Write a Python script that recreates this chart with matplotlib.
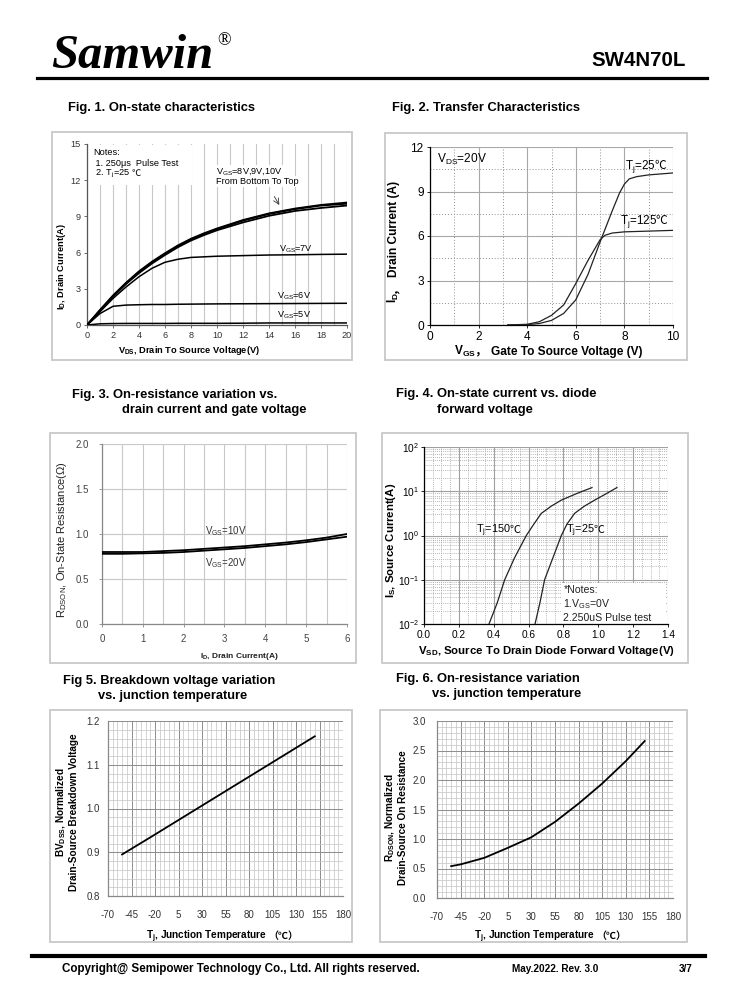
import matplotlib
matplotlib.use('Agg')
import matplotlib.pyplot as plt
import numpy as np
from matplotlib.patches import Rectangle
from matplotlib.lines import Line2D
from matplotlib.ticker import (MultipleLocator, FixedLocator, FormatStrFormatter,
                               LogLocator, NullFormatter)

plt.rcParams['font.family'] = ['Liberation Sans', 'Noto Sans CJK SC', 'DejaVu Sans']
plt.rcParams['mathtext.default'] = 'regular'
plt.rcParams['axes.unicode_minus'] = False

# ---------------- data ----------------
# Fig 1: output characteristics
vds = [0, 1, 2, 3, 4, 5, 6, 7, 8, 9, 10, 12, 14, 16, 18, 20]
id_vgs10 = [0, 1.25, 2.45, 3.5, 4.45, 5.25, 5.95, 6.6, 7.15, 7.6, 8.0, 8.7, 9.25, 9.65, 9.95, 10.15]
id_vgs9 = [0, 1.22, 2.4, 3.45, 4.4, 5.2, 5.9, 6.55, 7.1, 7.55, 7.95, 8.65, 9.2, 9.6, 9.9, 10.05]
id_vgs8 = [0, 1.18, 2.35, 3.4, 4.3, 5.1, 5.8, 6.45, 7.0, 7.45, 7.85, 8.5, 9.05, 9.45, 9.7, 9.9]
id_vgs7 = [0, 1.1, 2.2, 3.15, 4.0, 4.7, 5.2, 5.45, 5.6, 5.65, 5.7, 5.75, 5.8, 5.82, 5.85, 5.87]
id_vgs6 = [0, 0.95, 1.55, 1.65, 1.68, 1.7, 1.7, 1.72, 1.73, 1.74, 1.75, 1.76, 1.77, 1.78, 1.79, 1.8]
id_vgs5 = [0, 0.1, 0.12, 0.13, 0.13, 0.13, 0.13, 0.14, 0.14, 0.14, 0.14, 0.15, 0.17, 0.17, 0.17, 0.17]

# Fig 2: transfer characteristics
vgs_25 = [3.2, 4.0, 4.5, 5.0, 5.5, 6.0, 6.5, 7.0, 7.5, 7.8, 8.0, 8.2, 8.5, 9.0, 10.0]
id_25 = [0, 0.02, 0.1, 0.31, 0.78, 1.7, 3.4, 5.6, 7.7, 8.9, 9.5, 9.85, 10.0, 10.12, 10.25]
vgs_125 = [3.2, 4.0, 4.5, 5.0, 5.5, 6.0, 6.5, 7.0, 7.2, 7.5, 8.0, 9.0, 10.0]
id_125 = [0, 0.05, 0.22, 0.65, 1.35, 2.8, 4.35, 5.75, 6.05, 6.2, 6.28, 6.33, 6.38]

# Fig 3: on-resistance vs drain current
id_r = [0, 0.5, 1, 1.5, 2, 2.5, 3, 3.5, 4, 4.5, 5, 5.5, 6]
rds_vgs10 = [0.80, 0.80, 0.80, 0.81, 0.82, 0.835, 0.85, 0.865, 0.885, 0.905, 0.93, 0.96, 1.0]
rds_vgs20 = [0.78, 0.78, 0.785, 0.79, 0.80, 0.815, 0.83, 0.845, 0.865, 0.885, 0.91, 0.94, 0.97]

# Fig 4: diode forward characteristics
vsd_150 = [0.373, 0.42, 0.463, 0.52, 0.587, 0.63, 0.673, 0.73, 0.788, 0.88, 0.964]
vsd_25 = [0.637, 0.665, 0.692, 0.74, 0.788, 0.82, 0.864, 0.92, 0.979, 1.05, 1.107]
is_cur = [0.01, 0.03, 0.1, 0.316, 1.0, 1.8, 3.16, 4.6, 6.3, 9.0, 12.1]

# Fig 5: breakdown voltage vs temperature
tj_bv = [-55, -25, 0, 25, 50, 75, 100, 125, 150]
bv_norm = [0.895, 0.934, 0.967, 1.0, 1.033, 1.066, 1.099, 1.132, 1.165]

# Fig 6: on-resistance vs temperature
tj_r = [-55, -45, -20, 5, 30, 55, 80, 105, 130, 150]
r_norm = [0.54, 0.57, 0.68, 0.85, 1.03, 1.29, 1.60, 1.94, 2.32, 2.66]

# ticks
f1_xticks = list(range(0, 21, 2)); f1_yticks = [0, 3, 6, 9, 12, 15]
f2_xticks = [0, 2, 4, 6, 8, 10]; f2_yticks = [0, 3, 6, 9, 12]
f3_xticks = [0, 1, 2, 3, 4, 5, 6]; f3_yticks = [0.0, 0.5, 1.0, 1.5, 2.0]
f4_xticks = [0.0, 0.2, 0.4, 0.6, 0.8, 1.0, 1.2, 1.4]
temp_ticks = [-70, -45, -20, 5, 30, 55, 80, 105, 130, 155, 180]
f5_yticks = [0.8, 0.9, 1.0, 1.1, 1.2]
f6_yticks = [0.0, 0.5, 1.0, 1.5, 2.0, 2.5, 3.0]

# ---------------- figure ----------------
W, H = 738, 1000
fig = plt.figure(figsize=(7.38, 10), dpi=100)
LAT = 'Liberation Sans'
CJK = 'Noto Sans CJK SC'


def fx(x):
    return x / W


def fy(y):
    return 1 - y / H


def add_ax(l, r, t, b):
    return fig.add_axes([fx(l), fy(b), (r - l) / W, (b - t) / H])


def box(l, r, t, b):
    fig.add_artist(Rectangle((fx(l), fy(b)), (r - l) / W, (b - t) / H,
                             transform=fig.transFigure, fill=False,
                             ec='#c8c8c8', lw=1.3))


def hline(x0, x1, y, lw):
    fig.add_artist(Line2D([fx(x0), fx(x1)], [fy(y), fy(y)], lw=lw, color='black',
                          transform=fig.transFigure))


def rich(x, y, pieces, size, weight='normal', rot=0, ha='left', color='black', zorder=6):
    r = fig.canvas.get_renderer()
    items = []
    for p in pieces:
        if isinstance(p, (int, float)):
            items.append((None, p))
            continue
        s, fam = p
        t = fig.text(0, 0, s, fontsize=size, fontweight=weight, family=fam, color=color,
                     rotation=rot, rotation_mode='anchor', ha='left', va='baseline',
                     zorder=zorder)
        bb = t.get_window_extent(r)
        items.append((t, bb.height if rot == 90 else bb.width))
    total = sum(w for _, w in items)
    off = {'left': 0, 'center': -total / 2, 'right': -total}[ha]
    for t, w in items:
        if t is not None:
            if rot == 90:
                t.set_position((fx(x), fy(y - off)))
            else:
                t.set_position((fx(x + off), fy(y)))
        off += w


def dpx(ax, x, y):
    X, Y = ax.transData.transform((x, y))
    return X, H - Y


def style(ax, size, color='black', spine='black', xpad=2, ypad=2):
    for s in ['top', 'right']:
        ax.spines[s].set_visible(False)
    for s in ['left', 'bottom']:
        ax.spines[s].set_color(spine)
        ax.spines[s].set_linewidth(0.9)
    ax.tick_params(labelsize=size, labelcolor=color, color=spine, length=2.5, width=0.6,
                   direction='out')
    ax.tick_params(axis='x', pad=xpad)
    ax.tick_params(axis='y', pad=ypad)
    ax.tick_params(which='minor', length=0)
    ax.set_axisbelow(True)


# ---------------- header / footer ----------------
fig.text(fx(51), fy(68), 'Samwin', family='Liberation Serif', fontweight='bold',
         fontstyle='italic', fontsize=35, va='baseline')
fig.text(fx(217), fy(45), '®', family='Liberation Serif', fontsize=13, va='baseline')
fig.text(fx(686), fy(66), 'SW4N70L', fontweight='bold', fontsize=14.8, ha='right',
         va='baseline')
hline(37, 707, 77.5, 2.3)
hline(32, 705, 956, 3.0)
fig.text(fx(62), fy(972), 'Copyright@ Semipower Technology Co., Ltd. All rights reserved.',
         fontweight='bold', fontsize=8.4, va='baseline')
fig.text(fx(512), fy(972), 'May.2022. Rev. 3.0', fontweight='bold', fontsize=7.2,
         va='baseline')
fig.text(fx(679), fy(972), '3/7', fontweight='bold', fontsize=7.2, va='baseline')

# ---------------- titles ----------------
TS = 9.3
for x, y, s in [(68, 111, 'Fig. 1. On-state characteristics'),
                (392, 111, 'Fig. 2. Transfer Characteristics'),
                (72, 398, 'Fig. 3. On-resistance variation vs.'),
                (122, 413, 'drain current and gate voltage'),
                (396, 397, 'Fig. 4. On-state current vs. diode'),
                (437, 413, 'forward voltage'),
                (63, 684, 'Fig 5. Breakdown voltage variation'),
                (98, 699, 'vs. junction temperature'),
                (396, 682, 'Fig. 6. On-resistance variation'),
                (432, 697, 'vs. junction temperature')]:
    fig.text(fx(x), fy(y), s, fontweight='bold', fontsize=TS, va='baseline')

# panel frames
box(52, 352, 132, 360)
box(385, 687, 133, 360)
box(50, 356, 433, 663)
box(382, 688, 433, 663)
box(50, 352, 710, 942)
box(380, 687, 710, 942)

# ---------------- Fig 1 ----------------
ax1 = add_ax(87, 347, 144, 325)
style(ax1, 6.6, color='#333333', spine='#555555')
ax1.set_xlim(0, 20)
ax1.set_ylim(0, 15)
ax1.set_xticks(f1_xticks)
ax1.set_yticks(f1_yticks)
ax1.xaxis.set_minor_locator(MultipleLocator(1))
ax1.grid(axis='x', which='both', color='#c8c8c8', lw=0.8)
for ys, lw in [(id_vgs10, 1.3), (id_vgs9, 1.3), (id_vgs8, 1.3), (id_vgs7, 1.1),
               (id_vgs6, 1.1), (id_vgs5, 1.1)]:
    ax1.plot(vds, ys, color='black', lw=lw, zorder=3)
ax1.add_patch(Rectangle((0.2, 11.6), 7.9, 3.35, fc='white', ec='none', zorder=1.5))
ax1.text(0.45, 14.05, 'Notes:', fontsize=6.6, va='baseline', zorder=4)
ax1.text(0.45, 13.2, ' 1. 250μs  Pulse Test', fontsize=6.6, va='baseline', zorder=4)
px, py = dpx(ax1, 0.45, 12.35)
rich(px, py, [(' 2. T$_j$=25 ', LAT), 1.5, ('℃', CJK)], 6.6)
ax1.text(9.95, 12.55, 'V$_{GS}$=8V,9V,10V', fontsize=6.6, va='baseline', zorder=4,
         bbox=dict(fc='white', ec='none', pad=0.5))
ax1.text(9.95, 11.7, 'From Bottom To Top', fontsize=6.6, va='baseline', zorder=4,
         bbox=dict(fc='white', ec='none', pad=0.5))
ax1.annotate('', xy=(14.9, 9.75), xytext=(14.3, 10.85),
             arrowprops=dict(arrowstyle='->', lw=0.6, color='#333333'), zorder=4)
ax1.text(14.8, 6.05, 'V$_{GS}$=7V', fontsize=6.6, va='baseline')
ax1.text(14.6, 2.2, 'V$_{GS}$=6V', fontsize=6.6, va='baseline')
ax1.text(14.6, 0.65, 'V$_{GS}$=5V', fontsize=6.6, va='baseline')
rich(189, 353.5, [('V$_{DS}$, Drain To Source Voltage(V)', LAT)], 6.7, weight='bold',
     ha='center')
rich(64, 267, [('I$_D$, Drain Current(A)', LAT)], 6.7, weight='bold', rot=90, ha='center')

# ---------------- Fig 2 ----------------
ax2 = add_ax(430, 673, 147, 325)
style(ax2, 8.6)
ax2.set_xlim(0, 10)
ax2.set_ylim(0, 12)
ax2.set_xticks(f2_xticks)
ax2.set_yticks(f2_yticks)
ax2.xaxis.set_minor_locator(MultipleLocator(1))
ax2.yaxis.set_minor_locator(MultipleLocator(1.5))
ax2.grid(which='major', color='#a8a8a8', lw=0.8)
ax2.grid(which='minor', color='#909090', lw=0.7, ls=(0, (1, 2)))
ax2.plot(vgs_25, id_25, color='#222222', lw=0.9, zorder=3)
ax2.plot(vgs_125, id_125, color='#222222', lw=0.9, zorder=3)
ax2.text(0.27, 10.95, 'V$_{DS}$=20V', fontsize=8.6, va='baseline')
px, py = dpx(ax2, 8.04, 10.5)
rich(px, py, [('T$_j$=25', LAT), -1.5, ('℃', CJK)], 8.4)
px, py = dpx(ax2, 7.8, 6.8)
rich(px, py, [('T$_j$=125', LAT), -1.5, ('℃', CJK)], 8.4)
rich(548, 354.5, [('V$_{GS}$', LAT), -1.5, ('，', CJK), 5, ('Gate To Source Voltage (V)', LAT)],
     8.6, weight='bold', ha='center')
rich(397, 242, [('I$_D$', LAT), -1.5, ('，', CJK), 5, ('Drain Current (A)', LAT)], 8.6,
     weight='bold', rot=90, ha='center')

# ---------------- Fig 3 ----------------
ax3 = add_ax(102, 347, 444, 624)
style(ax3, 7.0, color='#444444', spine='#888888', xpad=5, ypad=7)
ax3.set_xlim(0, 6)
ax3.set_ylim(0, 2)
ax3.set_xticks(f3_xticks)
ax3.set_yticks(f3_yticks)
ax3.yaxis.set_major_formatter(FormatStrFormatter('%.1f'))
ax3.xaxis.set_minor_locator(MultipleLocator(0.5))
ax3.grid(which='both', axis='x', color='#c8c8c8', lw=0.8)
ax3.grid(which='major', axis='y', color='#c8c8c8', lw=0.8)
ax3.plot(id_r, rds_vgs10, color='black', lw=1.3, zorder=3)
ax3.plot(id_r, rds_vgs20, color='black', lw=1.3, zorder=3)
ax3.text(2.53, 0.995, 'V$_{GS}$=10V', fontsize=7, color='#333333', va='baseline')
ax3.text(2.53, 0.645, 'V$_{GS}$=20V', fontsize=7, color='#333333', va='baseline')
rich(239, 658, [('I$_D$, Drain Current(A)', LAT)], 6.0, weight='bold', color='#222222',
     ha='center')
rich(65, 540, [('R$_{DSON}$, On-State Resistance(Ω)', LAT)], 8.0, color='#222222',
     rot=90, ha='center')

# ---------------- Fig 4 ----------------
ax4 = add_ax(424, 668, 447, 624)
style(ax4, 7.3, xpad=2, ypad=1)
ax4.set_yscale('log')
ax4.set_xlim(0, 1.4)
ax4.set_ylim(1e-2, 1e2)
ax4.set_xticks(f4_xticks)
ax4.xaxis.set_major_formatter(FormatStrFormatter('%.1f'))
ax4.xaxis.set_minor_locator(MultipleLocator(0.05))
ax4.yaxis.set_major_locator(LogLocator(base=10, numticks=10))
ax4.yaxis.set_minor_locator(LogLocator(base=10, subs=np.arange(2, 10), numticks=10))
ax4.yaxis.set_minor_formatter(NullFormatter())
ax4.grid(which='major', color='#a0a0a0', lw=0.8)
ax4.grid(which='minor', color='#a0a0a0', lw=0.6, ls=(0, (1, 1.5)))
ax4.plot(vsd_150, is_cur, color='#222222', lw=0.9, zorder=3)
ax4.plot(vsd_25, is_cur, color='#222222', lw=0.9, zorder=3)
ax4.add_patch(Rectangle((0.79, 0.0101), 0.6, 0.083 - 0.0101, fc='white', ec='none',
                        zorder=1.5))
px, py = dpx(ax4, 0.30, 1.11)
rich(px, py, [('T$_j$=150', LAT), -1.5, ('℃', CJK)], 7.8)
px, py = dpx(ax4, 0.817, 1.11)
rich(px, py, [('T$_j$=25', LAT), -1.5, ('℃', CJK)], 7.8)
ax4.text(0.80, 10 ** -1.29, '*Notes:', fontsize=7.6, va='baseline', color='#222222')
ax4.text(0.80, 10 ** -1.63, '1.V$_{GS}$=0V', fontsize=7.6, va='baseline', color='#222222')
ax4.text(0.80, 10 ** -1.93, '2.250uS Pulse test', fontsize=7.6, va='baseline',
         color='#222222')
rich(546, 654, [('V$_{SD}$, Source To Drain Diode Forward Voltage(V)', LAT)], 8.2,
     weight='bold', ha='center')
rich(393.5, 540, [('I$_S$, Source Current(A)', LAT)], 8.2, weight='bold', rot=90,
     ha='center')


# ---------------- Fig 5 / Fig 6 ----------------
def temp_axes(ax, yticks, ymaj_minor, fmt, xpad, ypad):
    style(ax, 7.0, color='#333333', spine='#888888', xpad=xpad, ypad=ypad)
    ax.tick_params(length=0)
    ax.set_xlim(-70, 180)
    ax.xaxis.set_major_locator(FixedLocator(temp_ticks))
    ax.xaxis.set_minor_locator(FixedLocator(list(range(-70, 181, 5))))
    ax.set_yticks(yticks)
    ax.yaxis.set_minor_locator(MultipleLocator(ymaj_minor))
    ax.yaxis.set_major_formatter(FormatStrFormatter(fmt))
    ax.grid(which='major', color='#8c8c8c', lw=0.7)
    ax.grid(which='minor', color='#c4c4c4', lw=0.5)


ax5 = add_ax(108, 343, 721, 896)
ax5.set_ylim(0.8, 1.2)
temp_axes(ax5, f5_yticks, 0.02, '%.1f', 10, 6)
ax5.plot(tj_bv, bv_norm, color='black', lw=1.3, zorder=3)
rich(222, 939, [('T$_j$, Junction Temperature', LAT), 2, ('（℃）', CJK)], 7.2,
     weight='bold', ha='center')
fig.text(fx(66.5), fy(812), 'BV$_{DSS}$, Normalized\nDrain-Source Breakdown Voltage',
         rotation=90, ha='center', va='center', fontsize=7.2, fontweight='bold',
         multialignment='center', linespacing=1.15)

ax6 = add_ax(437, 673, 721, 898)
ax6.set_ylim(0, 3)
temp_axes(ax6, f6_yticks, 0.1, '%.1f', 10, 8)
ax6.plot(tj_r, r_norm, color='black', lw=1.3, zorder=3)
rich(550, 939, [('T$_j$, Junction Temperature', LAT), 2, ('（℃）', CJK)], 7.2,
     weight='bold', ha='center')
fig.text(fx(396), fy(818), 'R$_{DSON}$, Normalized\nDrain-Source On Resistance',
         rotation=90, ha='center', va='center', fontsize=7.2, fontweight='bold',
         multialignment='center', linespacing=1.15)

fig.savefig('out.png', dpi=100)
